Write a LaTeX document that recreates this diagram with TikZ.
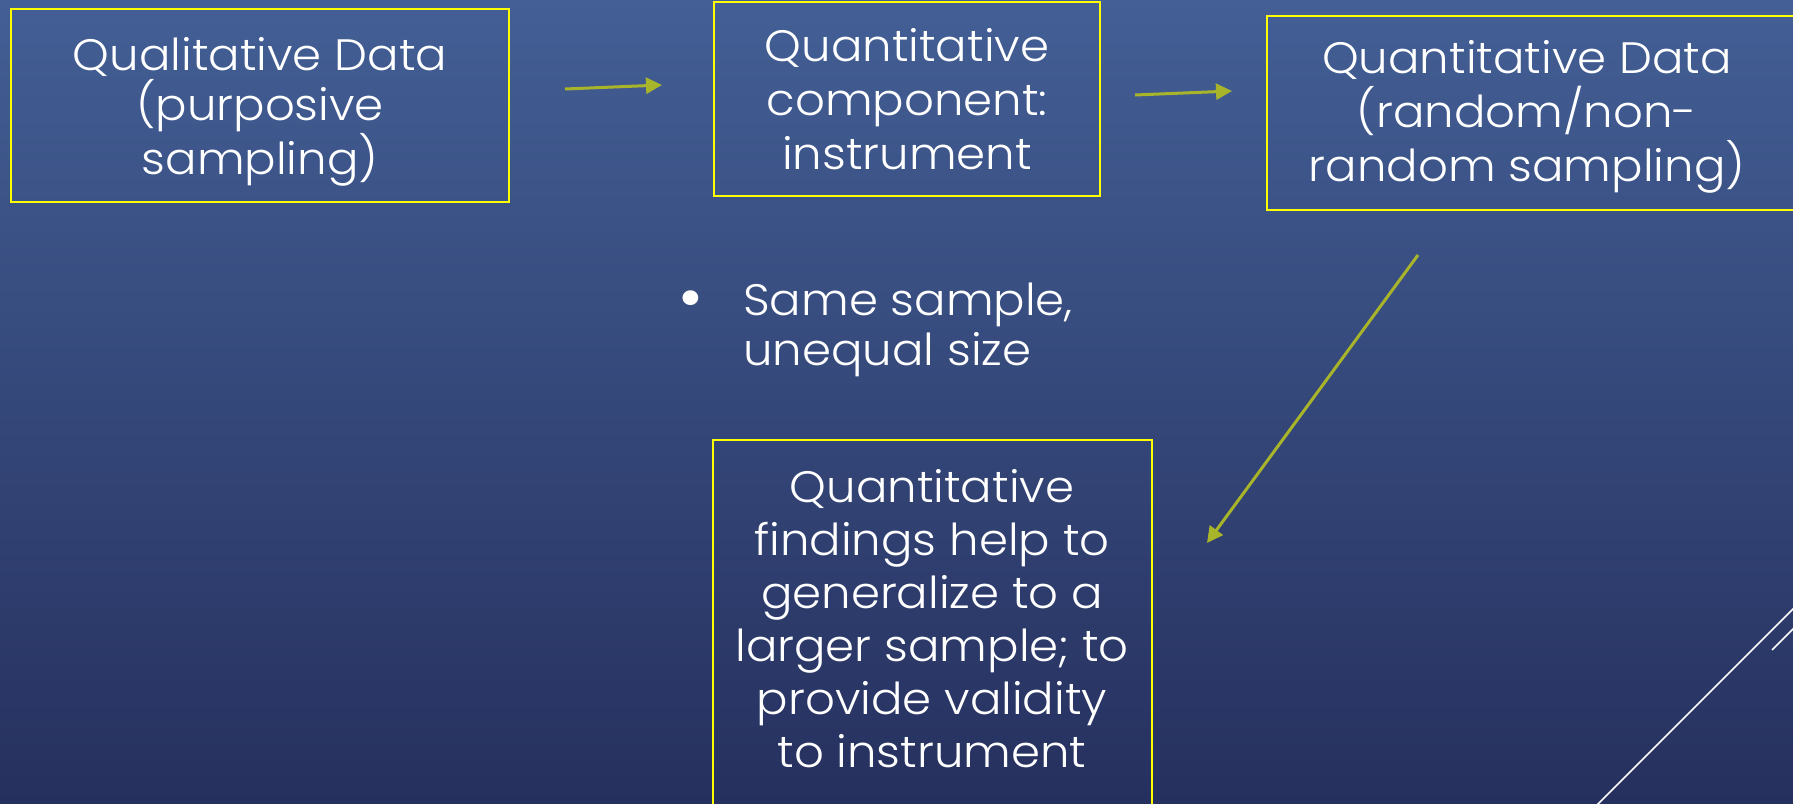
\documentclass[tikz,border=0pt]{standalone}
\usepackage{fontspec}
\setmainfont{Poppins}[UprightFont={* Light}, FakeStretch=1.06]
\usetikzlibrary{arrows.meta}
\definecolor{bgtop}{RGB}{67,95,149}
\definecolor{bgbot}{RGB}{38,48,94}
\definecolor{frameyellow}{RGB}{255,255,0}
\definecolor{arrowolive}{RGB}{168,180,42}
\tikzset{
  frame/.style={draw=frameyellow, line width=2pt, rectangle, inner sep=0pt},
  txt/.style={text=white, align=center, font=\fontsize{44}{54}\selectfont, inner sep=0pt},
  tight/.style={font=\fontsize{44}{50}\selectfont},
  longtxt/.style={font=\fontsize{44}{53}\selectfont},
  flow/.style={draw=arrowolive, line width=3pt, -{Triangle[length=16pt,width=16pt]}},
  deco/.style={draw=white, line width=1.6pt}
}
\begin{document}
\begin{tikzpicture}[x=1pt,y=-1pt]
\useasboundingbox (0,0) rectangle (1793,803);
\clip (0,0) rectangle (1793,803);
% background
\shade[top color=bgtop, bottom color=bgbot] (0,0) rectangle (1793,803);

% boxes
\node[frame, minimum width=498pt, minimum height=193pt] (b1) at (260,105.5) {};
\node[frame, minimum width=386pt, minimum height=194pt] (b2) at (907,99) {};
\node[frame, minimum width=533pt, minimum height=194pt] (b3) at (1533.5,113) {};
\node[frame, minimum width=439pt, minimum height=380pt] (b4) at (932.5,630) {};

% box texts
\node[txt, tight] (t1) at (260,112) {Qualitative Data\\(purposive\\sampling)};
\node[txt] (t2) at (907,99) {Quantitative\\component:\\instrument};
\node[txt] (t3) at (1527,117) {Quantitative Data\\(random/non-\\random sampling)};
\node[txt, longtxt] (t4) at (932,619) {Quantitative\\findings help to\\generalize to a\\larger sample; to\\provide validity\\to instrument};

% bullet note
\node[txt, tight, align=left, anchor=north west] (note) at (743,283) {Same sample,\\unequal size};
\node[text=white, inner sep=0pt, font=\fontsize{64}{64}\selectfont] (dot) at (691,305) {\textbullet};

% connectors
\coordinate (a1s) at (565,89);  \coordinate (a1e) at (662,85);
\coordinate (a2s) at (1135,95); \coordinate (a2e) at (1232,91);
\coordinate (a3s) at (1418,255); \coordinate (a3e) at (1207,543);
\draw[flow] (a1s) -- (a1e);
\draw[flow] (a2s) -- (a2e);
\draw[flow] (a3s) -- (a3e);

% corner ornament
\coordinate (c1s) at (1589,813); \coordinate (c1e) at (1813,589);
\coordinate (c2s) at (1772,650); \coordinate (c2e) at (1813,609);
\draw[deco] (c1s) -- (c1e);
\draw[deco] (c2s) -- (c2e);
\end{tikzpicture}
\end{document}
